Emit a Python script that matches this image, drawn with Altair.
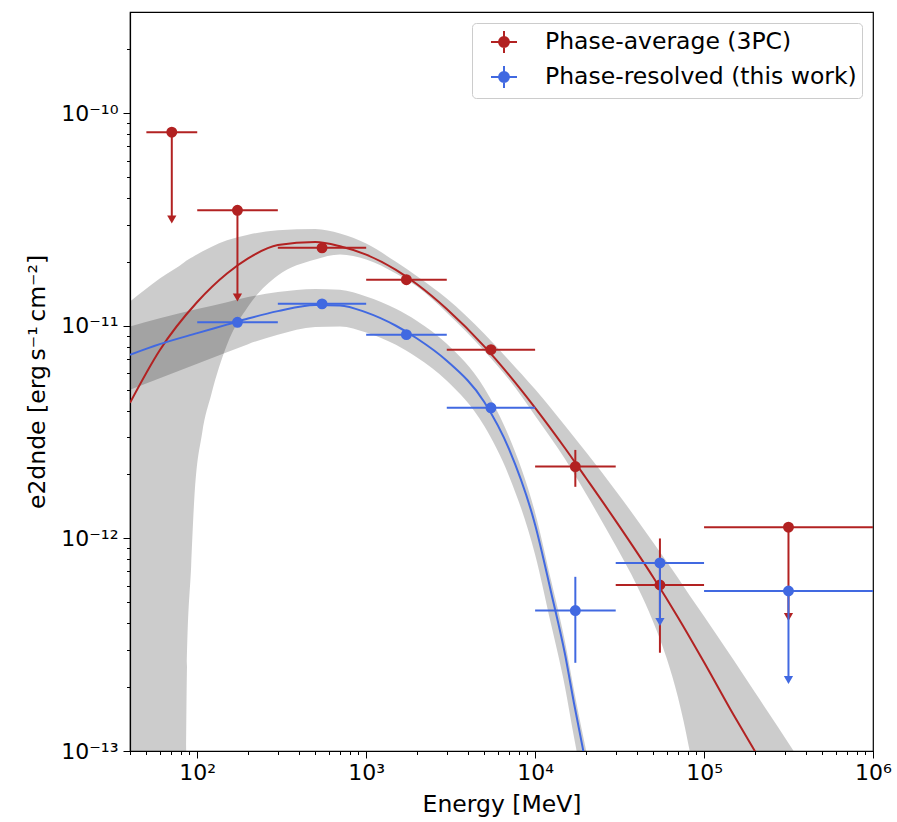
import altair as alt
import pandas as pd

RED = "#b22222"
BLUE = "#4169e1"
S_PA = "Phase-average (3PC)"
S_PR = "Phase-resolved (this work)"

# ---------------- flux points: Phase-average (3PC) ----------------
pa_e     = [70.7, 173, 548, 1730, 5480, 17300, 54800, 316000]
pa_elo   = [50, 100, 300, 1000, 3000, 10000, 30000, 100000]
pa_ehi   = [100, 300, 1000, 3000, 10000, 30000, 100000, 1000000]
pa_f     = [8.16e-11, 3.50e-11, 2.33e-11, 1.65e-11, 7.73e-12, 2.18e-12, 6.04e-13, 1.13e-12]
pa_flo   = [3.17e-11, 1.36e-11, 2.22e-11, 1.61e-11, 7.45e-12, 1.75e-12, 2.90e-13, 4.27e-13]
pa_fhi   = [8.16e-11, 3.50e-11, 2.46e-11, 1.70e-11, 8.00e-12, 2.61e-12, 1.00e-12, 1.13e-12]
pa_is_ul = [True, True, False, False, False, False, False, True]

# ---------------- flux points: Phase-resolved (this work) ----------------
pr_e     = [173, 548, 1730, 5480, 17300, 54800, 316000]
pr_elo   = [100, 300, 1000, 3000, 10000, 30000, 100000]
pr_ehi   = [300, 1000, 3000, 10000, 30000, 100000, 1000000]
pr_f     = [1.04e-11, 1.27e-11, 9.10e-12, 4.12e-12, 4.58e-13, 7.67e-13, 5.66e-13]
pr_flo   = [1.00e-11, 1.24e-11, 8.90e-12, 3.98e-12, 2.60e-13, 4.05e-13, 2.16e-13]
pr_fhi   = [1.08e-11, 1.30e-11, 9.30e-12, 4.26e-12, 6.60e-13, 7.67e-13, 5.66e-13]
pr_is_ul = [False, False, False, False, False, True, True]

# ---------------- model curves ----------------
pa_model_e = [40, 60, 100, 150, 200, 300, 500, 700, 1000, 1500, 2000, 3000, 5000, 7000,
              10000, 15000, 20000, 30000, 50000, 70000, 100000, 150000, 195000, 220000]
pa_model_f = [4.35e-12, 7.69e-12, 1.296e-11, 1.765e-11, 2.079e-11, 2.402e-11, 2.481e-11,
              2.37e-11, 2.164e-11, 1.834e-11, 1.570e-11, 1.201e-11, 8.01e-12, 5.884e-12,
              4.117e-12, 2.665e-12, 1.925e-12, 1.210e-12, 6.57e-13, 4.264e-13, 2.617e-13,
              1.473e-13, 1.032e-13, 8.77e-14]

pr_model_e = [40, 60, 100, 150, 200, 300, 500, 700, 1000, 1500, 2000, 3000, 5000, 7000,
              10000, 12500, 15000, 17000, 19400, 21000]
pr_model_f = [7.32e-12, 8.21e-12, 9.25e-12, 1.014e-11, 1.083e-11, 1.174e-11, 1.256e-11,
              1.249e-11, 1.158e-11, 1.002e-11, 8.73e-12, 6.86e-12, 4.39e-12, 2.64e-12,
              1.161e-12, 5.48e-13, 2.875e-13, 1.674e-13, 9.78e-14, 7.14e-14]

# ---------------- model uncertainty bands ----------------
pa_band_e  = [40, 60, 85, 86, 87, 92, 96, 107, 121, 150, 200, 300, 500, 700, 1000, 1500,
              2000, 3000, 5000, 7000, 10000, 15000, 20000, 30000, 40000, 50000, 60000, 70000,
              82000, 100000, 150000, 200000, 336000, 400000]
pa_band_hi = [1.302e-11, 1.670e-11, 2.009e-11, 2.024e-11, 2.037e-11, 2.093e-11, 2.136e-11,
              2.240e-11, 2.352e-11, 2.527e-11, 2.689e-11, 2.817e-11, 2.858e-11, 2.721e-11,
              2.442e-11, 2.002e-11, 1.711e-11, 1.345e-11, 9.20e-12, 6.90e-12, 5.03e-12,
              3.40e-12, 2.55e-12, 1.678e-12, 1.229e-12, 9.57e-13, 7.79e-13, 6.53e-13,
              5.40e-13, 4.31e-13, 2.67e-13, 1.888e-13, 1.01e-13, 8.13e-14]
pa_band_lo = [1e-15, 1e-15, 3e-14, 1.01e-13, 2.485e-13, 7.35e-13, 1.52e-12, 3.144e-12,
              4.746e-12, 8.16e-12, 1.233e-11, 1.725e-11, 2.052e-11, 2.167e-11, 2.052e-11,
              1.764e-11, 1.531e-11, 1.155e-11, 7.65e-12, 5.59e-12, 3.78e-12, 2.37e-12,
              1.622e-12, 9.23e-13, 6.01e-13, 4.05e-13, 2.74e-13, 1.794e-13, 1.01e-13,
              3.72e-14, 1e-15, 1e-15, 1e-15, 1e-15]

pr_band_e  = [40, 60, 100, 150, 200, 300, 500, 700, 1000, 1500, 2000, 3000, 5000, 7000,
              10000, 12500, 15000, 17000, 19400, 21000]
pr_band_hi = [9.93e-12, 1.088e-11, 1.200e-11, 1.294e-11, 1.367e-11, 1.443e-11, 1.494e-11,
              1.478e-11, 1.377e-11, 1.205e-11, 1.056e-11, 8.24e-12, 5.11e-12, 3.02e-12,
              1.323e-12, 6.24e-13, 3.29e-13, 1.928e-13, 1.139e-13, 8.40e-14]
pr_band_lo = [5.01e-12, 5.68e-12, 6.64e-12, 7.52e-12, 8.21e-12, 9.10e-12, 9.89e-12,
              9.95e-12, 9.32e-12, 8.15e-12, 7.10e-12, 5.52e-12, 3.38e-12, 1.970e-12,
              8.39e-13, 3.87e-13, 2.010e-13, 1.158e-13, 6.70e-14, 4.88e-14]

# ---------------- axis ticks ----------------
x_major = [1e2, 1e3, 1e4, 1e5, 1e6]
x_minor = [40, 50, 60, 70, 80, 90] + [m * 10 ** k for k in range(2, 6) for m in range(2, 10)]
y_major = [1e-13, 1e-12, 1e-11, 1e-10]
y_minor = [m * 10.0 ** k for k in range(-13, -10) for m in range(2, 10)] + [2e-10]

SUP = str.maketrans("-0123456789", "⁻⁰¹²³⁴⁵⁶⁷⁸⁹")
L = "round(log(datum.value)/LN10)"


def label_expr(exps):
    parts = " : ".join(f"{L} == {k} ? '10{str(k).translate(SUP)}'" for k in exps)
    return f"{parts} : ''"


x_axis = alt.Axis(values=x_major, labelExpr=label_expr([2, 3, 4, 5, 6]), labelOverlap=False,
                  labelFlush=False, tickSize=7, grid=False, title="Energy [MeV]",
                  labelPadding=4, titlePadding=9, orient="bottom")
y_axis = alt.Axis(values=y_major, labelExpr=label_expr([-13, -12, -11, -10]),
                  labelOverlap=False, labelFlush=False, tickSize=7, grid=False,
                  title="e2dnde [erg\u2009s⁻¹\u2009cm⁻²]", labelPadding=5, titlePadding=11,
                  orient="left")
x_axis_minor = alt.Axis(values=x_minor, labels=False, tickSize=3.5, grid=False, domain=False,
                        title=None, orient="bottom")
y_axis_minor = alt.Axis(values=y_minor, labels=False, tickSize=3.5, grid=False, domain=False,
                        title=None, orient="left")

xs = alt.Scale(type="log", domain=[40, 1e6], nice=False)
ys = alt.Scale(type="log", domain=[1e-13, 3e-10], nice=False)

SYMBOL = ("M-1,0H1M0,-0.85V0.85M0.38,0A0.38,0.38,0,1,1,-0.38,0"
          "A0.38,0.38,0,1,1,0.38,0Z")
color_scale = alt.Scale(domain=[S_PA, S_PR], range=[RED, BLUE])
leg = alt.Legend(title=None, orient="top-right", offset=11, padding=5, symbolType=SYMBOL,
                 symbolSize=676, symbolStrokeWidth=2, labelFontSize=23.5, labelOffset=27,
                 rowPadding=3, strokeColor="#cccccc", fillColor="white", cornerRadius=4,
                 symbolOffset=13, labelLimit=600)

# ---------------- data frames ----------------
band_pa = pd.DataFrame({"e": pa_band_e, "lo": pa_band_lo, "hi": pa_band_hi})
band_pr = pd.DataFrame({"e": pr_band_e, "lo": pr_band_lo, "hi": pr_band_hi})
model_pa = pd.DataFrame({"e": pa_model_e, "f": pa_model_f})
model_pr = pd.DataFrame({"e": pr_model_e, "f": pr_model_f})


def points_df(e, elo, ehi, f, flo, fhi, is_ul, series):
    return pd.DataFrame({"e": e, "elo": elo, "ehi": ehi, "f": f, "flo": flo, "fhi": fhi,
                         "ul": is_ul, "series": series})


pts_pa = points_df(pa_e, pa_elo, pa_ehi, pa_f, pa_flo, pa_fhi, pa_is_ul, S_PA)
pts_pr = points_df(pr_e, pr_elo, pr_ehi, pr_f, pr_flo, pr_fhi, pr_is_ul, S_PR)

# ---------------- layers ----------------
band_pa_layer = alt.Chart(band_pa).mark_area(interpolate="monotone", clip=True, color="black",
                                             fillOpacity=0.2).encode(
    x=alt.X("e:Q", scale=xs, axis=x_axis),
    y=alt.Y("hi:Q", scale=ys, axis=y_axis),
    y2="lo:Q",
)
band_pr_layer = alt.Chart(band_pr).mark_area(interpolate="monotone", clip=True, color="black",
                                             fillOpacity=0.2).encode(
    x=alt.X("e:Q", scale=xs, axis=x_axis_minor),
    y=alt.Y("hi:Q", scale=ys, axis=y_axis_minor),
    y2="lo:Q",
)


def curve(df, col):
    return alt.Chart(df).mark_line(interpolate="monotone", clip=True, color=col,
                                   strokeWidth=2).encode(
        x=alt.X("e:Q", scale=xs, axis=None),
        y=alt.Y("f:Q", scale=ys, axis=None),
    )


def errorbars(df, col):
    h = alt.Chart(df).mark_rule(color=col, strokeWidth=2, clip=True).encode(
        x=alt.X("elo:Q", scale=xs, axis=None), x2="ehi:Q",
        y=alt.Y("f:Q", scale=ys, axis=None),
    )
    v = alt.Chart(df).mark_rule(color=col, strokeWidth=2, clip=True).encode(
        x=alt.X("e:Q", scale=xs, axis=None),
        y=alt.Y("flo:Q", scale=ys, axis=None), y2="fhi:Q",
    )
    arrows = alt.Chart(df).transform_filter("datum.ul").mark_point(
        shape="triangle-down", filled=True, size=85, color=col, opacity=1).encode(
        x=alt.X("e:Q", scale=xs, axis=None),
        y=alt.Y("flo:Q", scale=ys, axis=None),
    )
    return alt.layer(h, v, arrows)


def markers(df):
    return alt.Chart(df).mark_point(shape="circle", filled=True, size=80, opacity=1,
                                    strokeWidth=2).encode(
        x=alt.X("e:Q", scale=xs, axis=None),
        y=alt.Y("f:Q", scale=ys, axis=None),
        fill=alt.Fill("series:N", scale=color_scale, legend=leg),
        stroke=alt.Stroke("series:N", scale=color_scale, legend=leg),
    )


chart = alt.layer(
    band_pa_layer,
    band_pr_layer,
    curve(model_pa, RED),
    curve(model_pr, BLUE),
    errorbars(pts_pa, RED),
    markers(pts_pa),
    errorbars(pts_pr, BLUE),
    markers(pts_pr),
).resolve_axis(
    x="independent", y="independent"
).properties(
    width=743,
    height=739,
    padding={"left": 130, "top": 12, "right": 24, "bottom": 71},
    autosize=alt.AutoSizeParams(type="none"),
    background="white",
).configure(
    font="DejaVu Sans",
).configure_view(
    stroke="black", strokeWidth=1.2,
).configure_axis(
    domainColor="black", domainWidth=1.2, tickColor="black", tickWidth=1,
    labelColor="black", titleColor="black", labelFontSize=22, titleFontSize=23.5,
    titleFontWeight="normal", labelFont="DejaVu Sans", titleFont="DejaVu Sans",
).configure_legend(
    labelFont="DejaVu Sans", labelColor="black",
)

chart.save("out.html", embed_options={"renderer": "svg", "actions": False})
